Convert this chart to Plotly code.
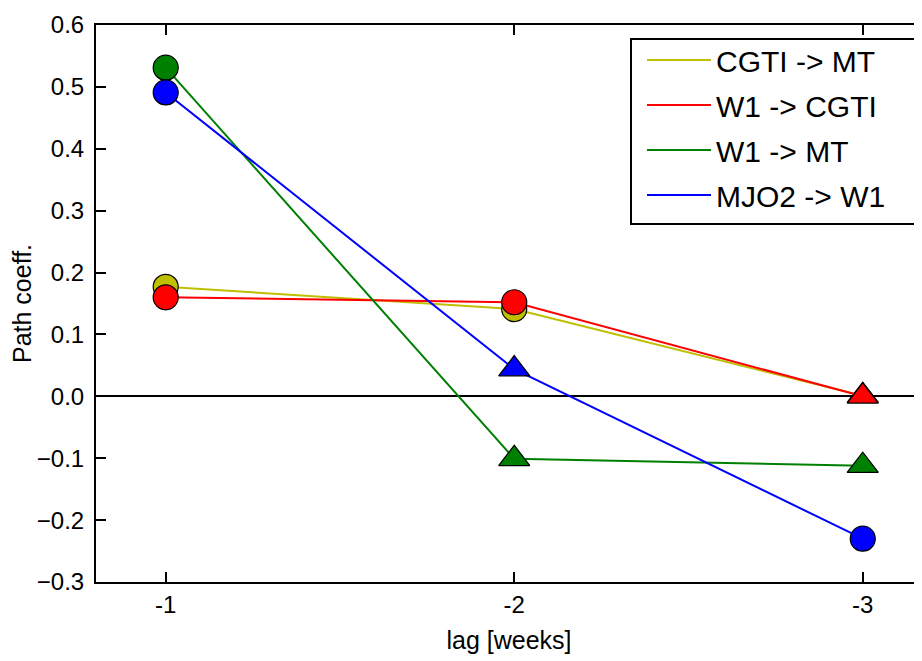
import plotly.graph_objects as go

lags = [-1, -2, -3]
tick_labels = ["-1", "-2", "-3"]
series_names = ["CGTI -> MT", "W1 -> CGTI", "W1 -> MT", "MJO2 -> W1"]
cgti_mt = [0.177, 0.141, 0.001]
w1_cgti = [0.160, 0.152, 0.000]
w1_mt = [0.531, -0.101, -0.112]
mjo2_w1 = [0.491, 0.044, -0.230]
# marker shapes: circle = significant, triangle = not significant
cgti_mt_sym = ["circle", "circle", "triangle-up"]
w1_cgti_sym = ["circle", "circle", "triangle-up"]
w1_mt_sym = ["circle", "triangle-up", "triangle-up"]
mjo2_w1_sym = ["circle", "triangle-up", "circle"]
colors = ["#bfbf00", "#ff0000", "#008000", "#0000ff"]

values = [cgti_mt, w1_cgti, w1_mt, mjo2_w1]
symbols = [cgti_mt_sym, w1_cgti_sym, w1_mt_sym, mjo2_w1_sym]

FONT = "Liberation Sans, Arial, sans-serif"
fig = go.Figure()
for i, (name, vals, syms, col) in enumerate(zip(series_names, values, symbols, colors)):
    fig.add_trace(go.Scatter(
        x=lags, y=vals, mode="lines", name=name, legendgroup=f"g{i}",
        line=dict(color=col, width=2), hoverinfo="skip"))
    fig.add_trace(go.Scatter(
        x=lags, y=vals, mode="markers", showlegend=False, legendgroup=f"g{i}",
        marker=dict(color=col, symbol=syms, opacity=1,
                    size=[25 if s == "circle" else 27 for s in syms],
                    line=dict(color="black", width=1.2))))

# legend frame (matplotlib-style box)
fig.add_shape(type="rect", xref="paper", yref="paper",
              x0=0.6477, x1=0.9939, y0=0.6427, y1=0.9749,
              line=dict(color="black", width=2), fillcolor="white", layer="above")

fig.update_layout(
    width=914, height=653,
    margin=dict(l=88, r=0, t=17, b=79),
    plot_bgcolor="white", paper_bgcolor="white",
    font=dict(family=FONT, color="black", size=24),
    legend=dict(x=0.661, xanchor="left", y=0.984, yanchor="top",
                font=dict(family=FONT, size=30, color="black"),
                borderwidth=0, bgcolor="rgba(0,0,0,0)",
                tracegroupgap=3, itemwidth=64),
)
fig.update_xaxes(
    range=[-0.8, -3.17], tickvals=lags, ticktext=tick_labels,
    showline=True, linecolor="black", linewidth=2, mirror="ticks",
    ticks="inside", ticklen=10, tickwidth=1.5, tickcolor="black",
    showgrid=False, zeroline=False, automargin=False,
    tickfont=dict(size=24), ticklabelstandoff=0,
    title=dict(text="lag [weeks]", font=dict(size=25), standoff=15),
)
fig.update_yaxes(
    range=[-0.3, 0.6], dtick=0.1, tick0=0, tickformat=".1f",
    showline=True, linecolor="black", linewidth=2, mirror=False,
    ticks="inside", ticklen=10, tickwidth=1.5, tickcolor="black",
    showgrid=False, zeroline=True, zerolinecolor="black", zerolinewidth=2,
    automargin=False,
    tickfont=dict(size=24), ticklabelstandoff=5,
    title=dict(text="Path coeff.", font=dict(size=25), standoff=12),
)
fig.write_html("out.html")
